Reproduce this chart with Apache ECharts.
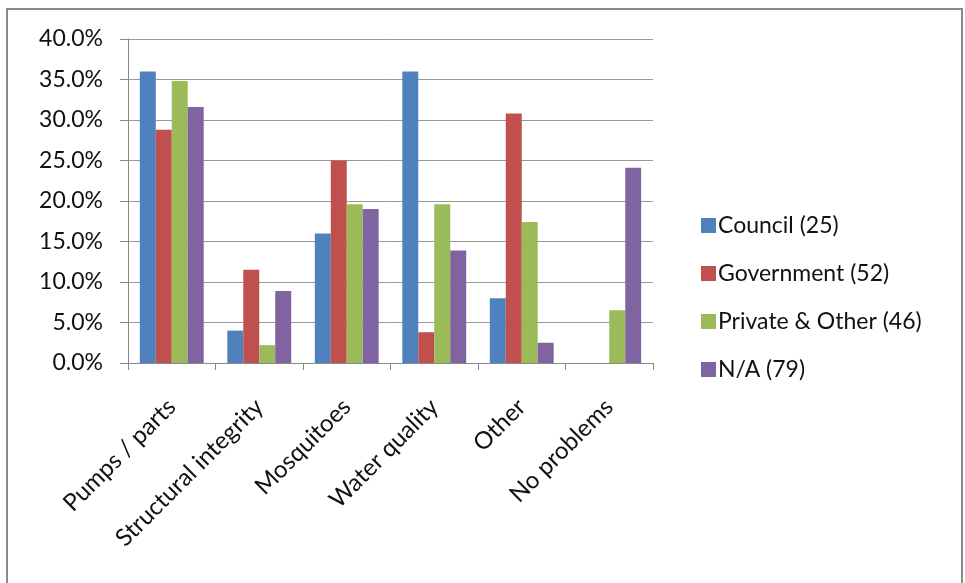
<!DOCTYPE html>
<html>
<head>
<meta charset="utf-8">
<script src="https://cdn.jsdelivr.net/npm/echarts@6/dist/echarts.min.js"></script>
<style>
html,body{margin:0;padding:0;background:#fff;}
#chart{width:965px;height:583px;}
</style>
</head>
<body>
<div id="chart"></div>
<script>
var categories = ['Pumps / parts', 'Structural integrity', 'Mosquitoes', 'Water quality', 'Other', 'No problems'];
var seriesNames = ['Council (25)', 'Government (52)', 'Private & Other (46)', 'N/A (79)'];
var council = [36.0, 4.0, 16.0, 36.0, 8.0, 0];
var government = [28.8, 11.5, 25.0, 3.8, 30.8, 0];
var privateOther = [34.8, 2.2, 19.6, 19.6, 17.4, 6.5];
var na = [31.6, 8.9, 19.0, 13.9, 2.5, 24.1];
var colors = ['#4F81BD', '#C0504D', '#9BBB59', '#8064A2'];
var yMin = 0, yMax = 40, yStep = 5;

var font = 'Lato, "Open Sans", sans-serif';
var chart = echarts.init(document.getElementById('chart'), null, {renderer: 'canvas'});
var allData = [council, government, privateOther, na];
chart.setOption({
  animation: false,
  color: colors,
  textStyle: {fontFamily: font},
  graphic: [{
    type: 'rect',
    shape: {x: 7, y: 9, width: 955, height: 620},
    style: {fill: 'none', stroke: '#8a8a8a', lineWidth: 2}
  }],
  grid: {left: 128, right: 312, top: 39, bottom: 220, containLabel: false},
  legend: {
    orient: 'vertical',
    left: 696,
    top: 209,
    itemWidth: 15,
    itemHeight: 15,
    itemGap: 25,
    icon: 'rect',
    textStyle: {fontSize: 23, lineHeight: 23, color: '#111', fontFamily: font, padding: [0, 0, 0, -3]},
    data: seriesNames
  },
  xAxis: {
    type: 'category',
    data: categories,
    axisLine: {lineStyle: {color: '#888', width: 1}},
    axisTick: {show: true, length: 7, lineStyle: {color: '#888'}},
    axisLabel: {rotate: 45, fontSize: 24, color: '#111', margin: 40, interval: 0, fontFamily: font}
  },
  yAxis: {
    type: 'value',
    min: yMin, max: yMax, interval: yStep,
    axisLine: {show: true, lineStyle: {color: '#888'}},
    axisTick: {show: true, length: 8, lineStyle: {color: '#888'}},
    splitLine: {lineStyle: {color: '#999', width: 1}},
    axisLabel: {fontSize: 23, color: '#111', margin: 25, fontFamily: font,
      formatter: function (v) { return v.toFixed(1) + '%'; }}
  },
  series: seriesNames.map(function (n, i) {
    return {
      name: n,
      type: 'bar',
      data: allData[i],
      barGap: '0%',
      barCategoryGap: '27%',
      itemStyle: {color: colors[i]}
    };
  })
});
</script>
</body>
</html>
